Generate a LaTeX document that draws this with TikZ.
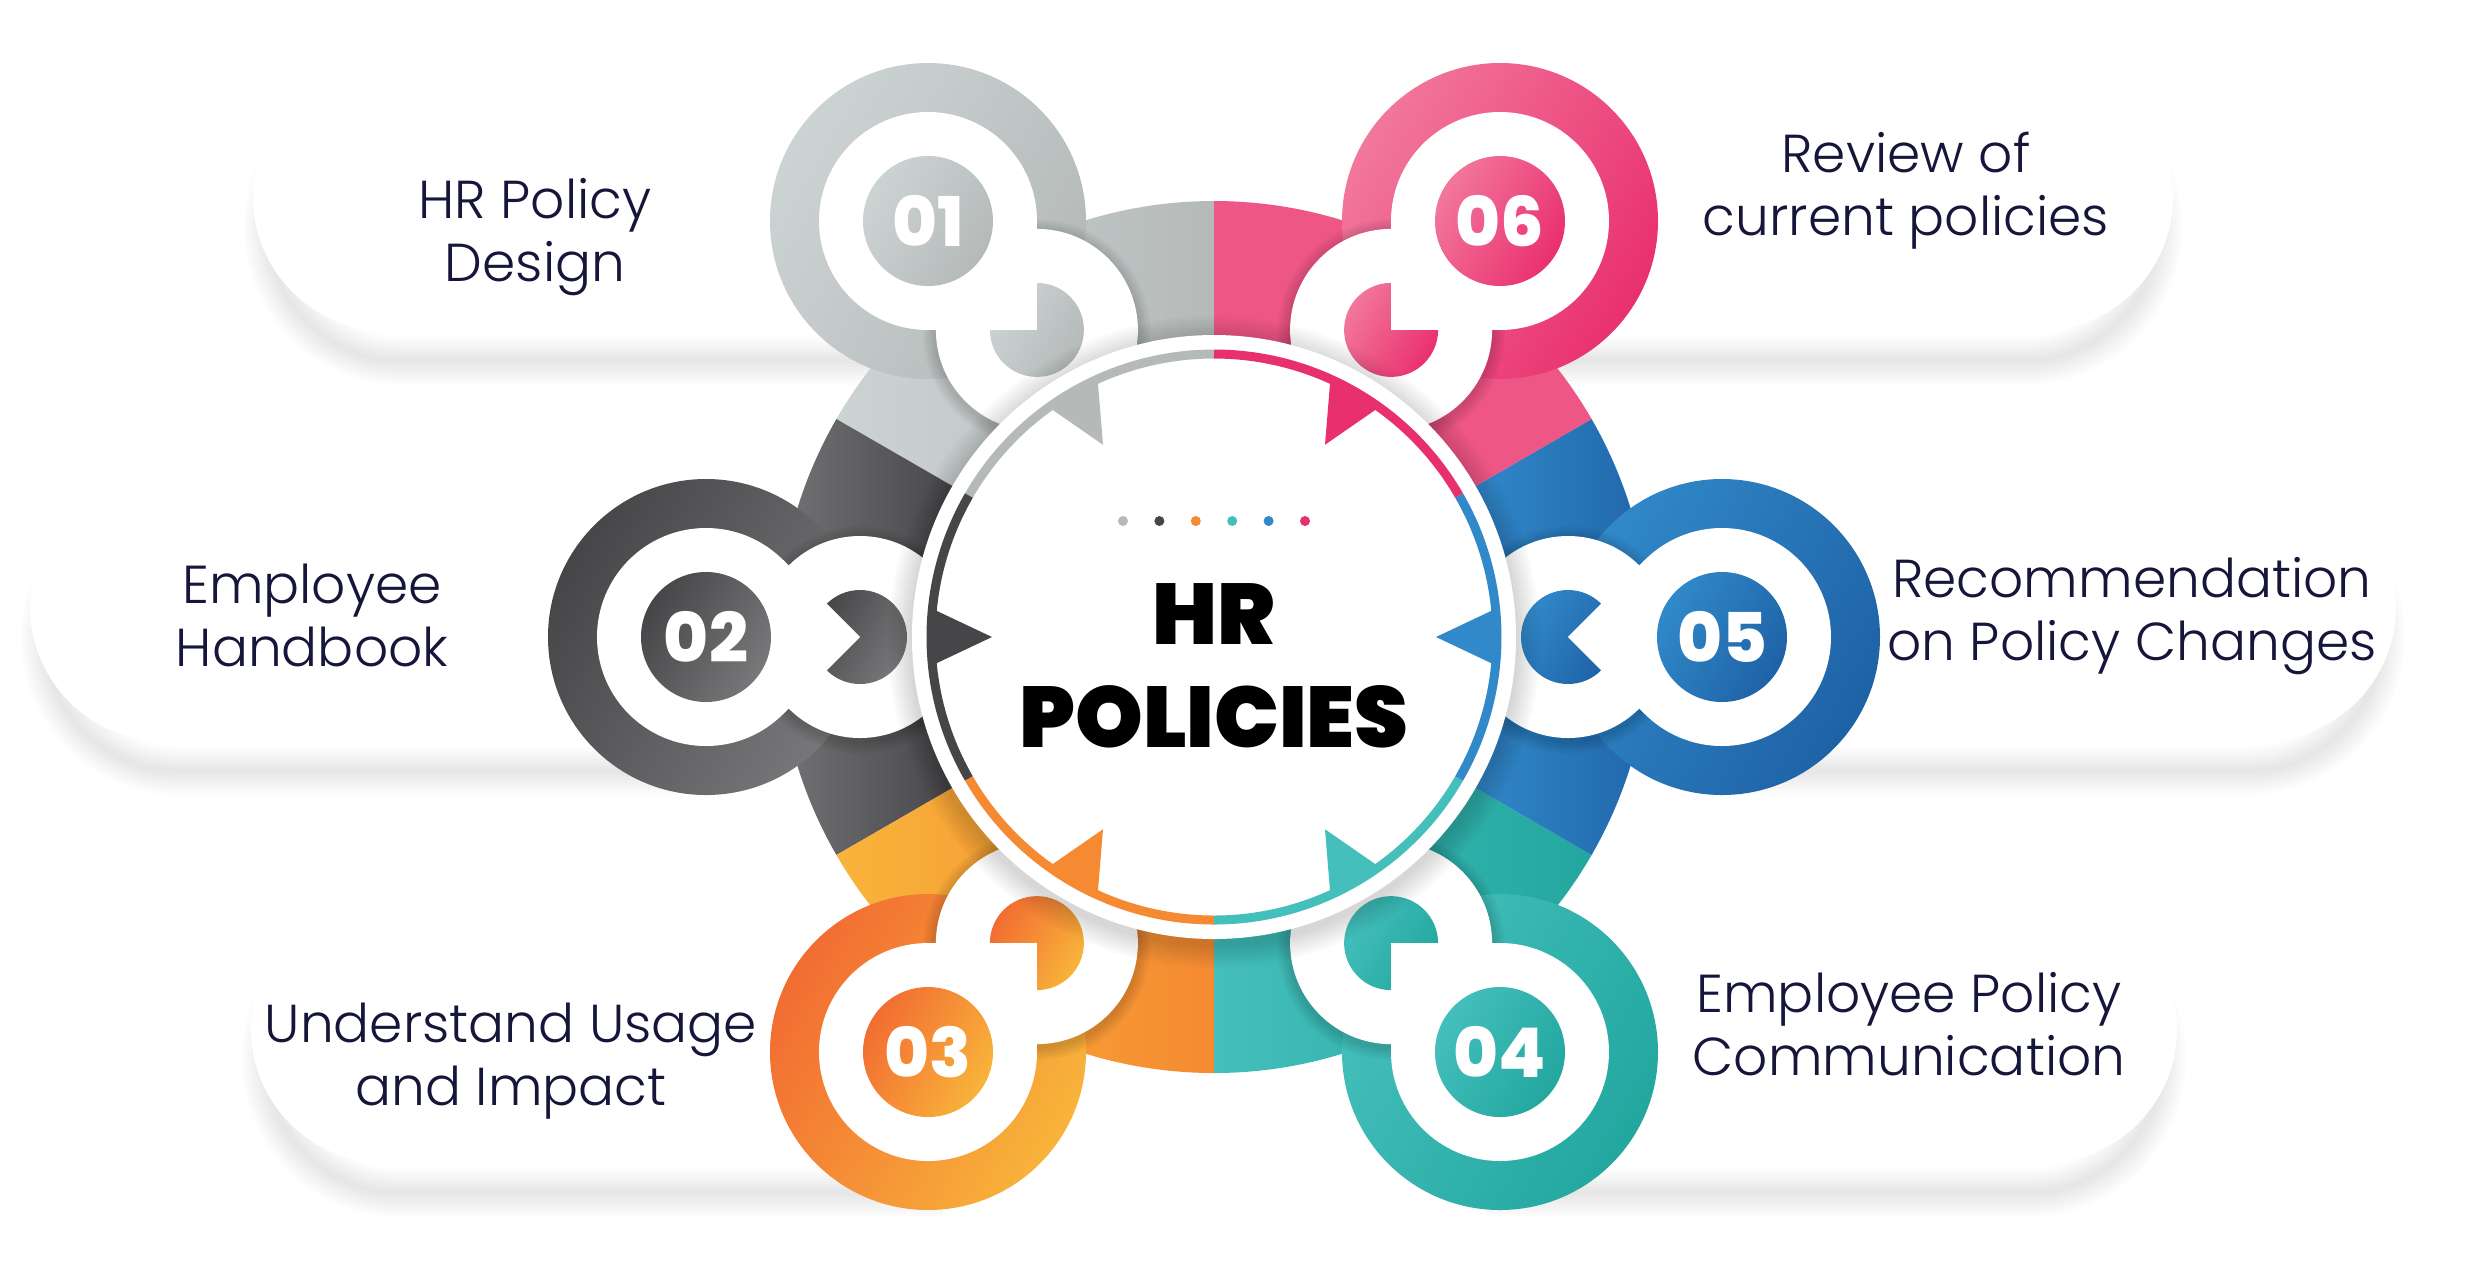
\documentclass[tikz,border=0pt]{standalone}
\usepackage{fontspec}
\setmainfont{Poppins}[UprightFont=* Light, BoldFont=* ExtraBold]
\newfontfamily\titlefont{Poppins Black}
\usepackage{tikz}
\usetikzlibrary{calc,positioning}

\definecolor{hrtext}{HTML}{15163A}
\definecolor{grayA}{HTML}{CCD4D3}
\definecolor{grayB}{HTML}{B5BAB9}
\definecolor{darkA}{HTML}{464648}
\definecolor{darkB}{HTML}{78787A}
\definecolor{orangeA}{HTML}{F26C32}
\definecolor{orangeB}{HTML}{F8B43A}
\definecolor{orangeC}{HTML}{F58A32}
\definecolor{tealA}{HTML}{45BFBC}
\definecolor{tealB}{HTML}{22A79F}
\definecolor{blueA}{HTML}{3189C9}
\definecolor{blueB}{HTML}{1E62A6}
\definecolor{pinkA}{HTML}{F2779C}
\definecolor{pinkB}{HTML}{E9306F}
\definecolor{pinkC}{HTML}{EE5686}

\tikzset{
  label text/.style={font=\fontsize{15.2}{17.9}\selectfont, text=hrtext, align=center, anchor=base, inner sep=0pt},
  number text/.style={font=\fontsize{19.5}{20}\selectfont\bfseries, text=white, inner sep=0pt},
  title text/.style={font=\fontsize{24.5}{29.3}\titlefont, text=black, align=center, anchor=base, inner sep=0pt},
}

% pill behind a step: #1 outer x, #2 hidden x, #3 centre y
\newcommand{\leftpill}[3]{
  \foreach \k in {1,...,8}
    \draw[black, draw opacity=0.011, line width=\k*0.06cm, xshift=0.15cm, yshift=-0.3cm]
      (#2,#3-1.34) -- (#1+1.34,#3-1.34) arc[start angle=270, end angle=90, radius=1.34] -- (#2,#3+1.34);
  \fill[white] (#2,#3-1.34) -- (#1+1.34,#3-1.34) arc[start angle=270, end angle=90, radius=1.34] -- (#2,#3+1.34) -- cycle;
}
\newcommand{\rightpill}[3]{
  \foreach \k in {1,...,8}
    \draw[black, draw opacity=0.011, line width=\k*0.06cm, xshift=-0.15cm, yshift=-0.3cm]
      (#2,#3+1.34) -- (#1-1.34,#3+1.34) arc[start angle=90, end angle=-90, radius=1.34] -- (#2,#3-1.34);
  \fill[white] (#2,#3+1.34) -- (#1-1.34,#3+1.34) arc[start angle=90, end angle=-90, radius=1.34] -- (#2,#3-1.34) -- cycle;
}

% numbered badge: #1 name, #2 corner angle, #3 light, #4 dark, #5 number
\newcommand{\hrstep}[5]{
  \shade[left color=#3, right color=#4, shading angle=60] (#1) circle (1.58);
  \coordinate (#1s) at ($(#1)+(#2:1.54)$);
  \foreach \k in {1,...,5}
    \fill[black, opacity=0.03] ($(#1s)+(0,-0.03)$) circle (1.01+\k*0.025);
  \fill[white] (#1s) circle (1.01);
  \shade[left color=#3, right color=#4, shading angle=60] (#1s) circle (0.47);
  \fill[white] (#1) circle (1.09);
  \fill[white] (#1) -- ++(#2-45:1.09) -- ++(#2+45:1.09) -- ++(#2+135:1.09) -- cycle;
  \shade[left color=#3, right color=#4, shading angle=60] (#1) circle (0.65);
  \node[number text] (#1n) at (#1) {#5};
}

\begin{document}
\begin{tikzpicture}

\useasboundingbox (-12.14,-6.49) rectangle (12.66,6.37);
\fill[white] (-12.14,-6.49) rectangle (12.66,6.37);

\coordinate (hub) at (0,0);
\coordinate (step01) at ($(hub)+(-2.86,4.16)$);
\coordinate (step02) at ($(hub)+(-5.08,0)$);
\coordinate (step03) at ($(hub)+(-2.86,-4.15)$);
\coordinate (step04) at ($(hub)+(2.86,-4.15)$);
\coordinate (step05) at ($(hub)+(5.08,0)$);
\coordinate (step06) at ($(hub)+(2.86,4.16)$);

% text pills
\leftpill{-9.61}{-2.86}{4.40}
\leftpill{-11.84}{-5.08}{0.30}
\leftpill{-9.63}{-2.86}{-3.92}
\rightpill{9.59}{2.86}{4.40}
\rightpill{11.82}{5.08}{0.30}
\rightpill{9.63}{2.86}{-3.92}

% main ring
\foreach \a/\ca/\cb in {90/grayA/grayB, 150/darkB/darkA, 210/orangeB/orangeC, 270/tealA/tealB, 330/blueA/blueB, 30/pinkC/pinkC}
  \shade[left color=\ca, right color=\cb] (\a:2.95) arc[start angle=\a, delta angle=60, radius=2.95] -- (\a+60:4.36) arc[start angle=\a+60, delta angle=-60, radius=4.36] -- cycle;

% badges
\hrstep{step01}{-45}{grayA}{grayB}{01}
\hrstep{step02}{0}{darkA}{darkB}{02}
\hrstep{step03}{45}{orangeA}{orangeB}{03}
\hrstep{step04}{135}{tealA}{tealB}{04}
\hrstep{step05}{180}{blueA}{blueB}{05}
\hrstep{step06}{-135}{pinkA}{pinkB}{06}

% centre disk
\foreach \k in {1,...,8}
  \fill[black, opacity=0.02] ($(hub)+(0,-0.05)$) circle (3.02+\k*0.03);
\fill[white] (hub) circle (3.02);

\foreach \a/\c in {120/grayB, 180/darkA, 240/orangeC, 300/tealA, 0/blueA, 60/pinkB}
  \fill[\c] (\a:2.22) -- (\a-6:2.87) -- (\a+6:2.87) -- cycle;

\foreach \a/\c in {90/grayB, 150/darkA, 210/orangeC, 270/tealA, 330/blueA, 30/pinkB}
  \draw[\c, line width=0.09cm] (\a:2.83) arc[start angle=\a, delta angle=60, radius=2.83];

\foreach \c [count=\i] in {grayB, darkA, orangeC, tealA, blueA, pinkB}
  \fill[\c] (-1.274+\i*0.364,1.16) circle (0.05);

\node[title text] (title) at (0,-1.10) {HR\\POLICIES};

% labels
\node[label text] (text01) at (-6.79,3.56) {HR Policy\\Design};
\node[label text] (text02) at (-9.02,-0.29) {Employee\\Handbook};
\node[label text] (text03) at (-7.03,-4.68) {Understand Usage\\and Impact};
\node[label text] (text04) at (6.95,-4.38) {Employee Policy\\Communication};
\node[label text] (text05) at (9.18,-0.23) {Recommendation\\on Policy Changes};
\node[label text] (text06) at (6.92,4.02) {Review of\\current policies};

\end{tikzpicture}
\end{document}
